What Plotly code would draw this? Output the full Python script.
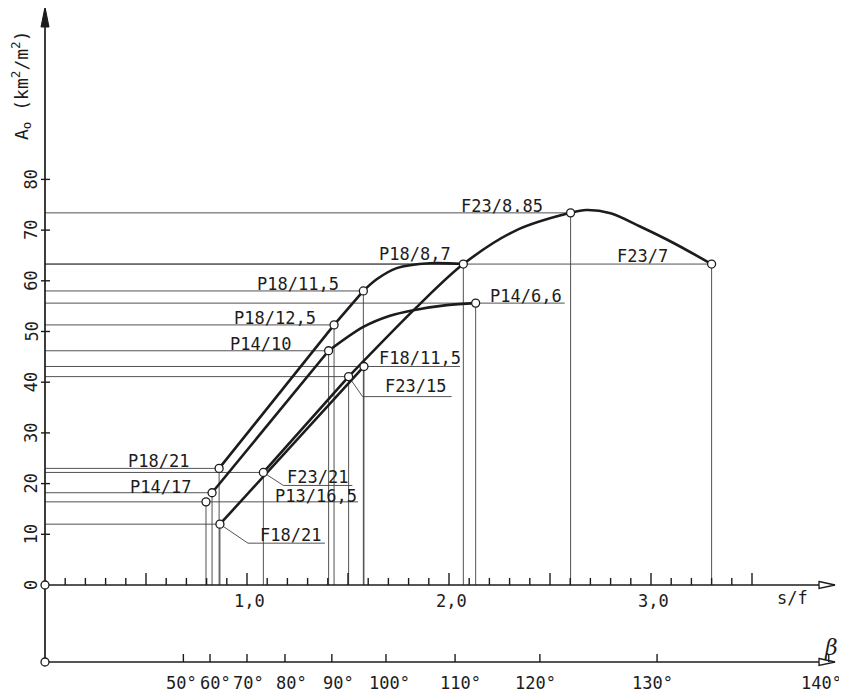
import plotly.graph_objects as go

# page body has an 8px margin: the figure is drawn 8px in from the window corner
PAGE_OFF = 8
WIN_W, WIN_H = 847, 693
W, H = WIN_W - PAGE_OFF, WIN_H - PAGE_OFF

# ---------------- data ----------------
point_labels = ["P18/21", "P14/17", "P13/16,5", "F18/21", "F23/21", "P18/12,5", "P14/10",
                "F23/15", "F18/11,5", "P18/11,5", "P18/8,7", "P14/6,6", "F23/8.85", "F23/7"]
point_sf = [0.862, 0.827, 0.797, 0.866, 1.081, 1.431, 1.404,
            1.503, 1.579, 1.576, 2.071, 2.132, 2.602, 3.300]
point_A = [23.0, 18.2, 16.4, 12.0, 22.2, 51.3, 46.2,
           41.1, 43.1, 58.0, 63.3, 55.6, 73.4, 63.3]

p18_straight_sf = [0.862, 1.431, 1.576]
p18_straight_A = [23.0, 51.3, 58.0]
p18_curve_sf = [1.576, 1.642, 1.741, 1.906, 2.071]
p18_curve_A = [58.0, 60.3, 62.5, 63.45, 63.3]

p14_straight_sf = [0.827, 1.404]
p14_straight_A = [18.2, 46.2]
p14_curve_sf = [1.404, 1.576, 1.708, 1.823, 1.989, 2.132]
p14_curve_A = [46.2, 50.9, 53.1, 54.2, 55.2, 55.6]

f18_sf = [0.866, 1.579]
f18_A = [12.0, 43.1]

f23_straight_sf = [1.081, 1.503]
f23_straight_A = [22.2, 41.1]
f23_curve_sf = [1.503, 1.840, 2.071, 2.330, 2.602, 2.680, 2.800, 2.946, 3.109, 3.300]
f23_curve_A = [41.1, 54.8, 63.3, 69.9, 73.4, 73.95, 73.3, 70.7, 67.5, 63.3]

y_tick_vals = [0, 10, 20, 30, 40, 50, 60, 70, 80]
sf_minor_ticks = [round(0.1 * i, 1) for i in range(1, 36)]
sf_major_ticks = [0.5, 1.0, 1.5, 2.0, 2.5, 3.0, 3.5]
sf_label_vals = [1.0, 2.0, 3.0]
sf_label_text = ["1,0", "2,0", "3,0"]
beta_deg = [50, 60, 70, 80, 90, 100, 110, 120, 130, 140]
beta_sf = [0.685, 0.817, 1.000, 1.188, 1.420, 1.688, 2.030, 2.450, 3.030, 3.880]

# ---------------- layout helpers ----------------
X0, X1 = (PAGE_OFF - 45) / 202, (WIN_W - 45) / 202
Y0, Y1 = (585 - WIN_H) / 5.07, (585 - PAGE_OFF) / 5.07
PXX = (X1 - X0) / W
PXY = (Y1 - Y0) / H


def ox(p):
    return p * PXX


def oy(p):  # positive = downward in pixels
    return -p * PXY


FONT = "DejaVu Sans Mono"
INK = "#1c1c1c"
THIN = "#404040"
BETA_Y = oy(77)
X_END = ox(790)

# pixel shifts of the degree labels relative to their ticks
beta_label_shift = [-2, 5, 1, 7, 7, 4, 5, -4, -5, -7]

label_layout = {
    "P18/21": dict(side="left", gap=28, dy=-7),
    "P14/17": dict(side="left", gap=19, dy=-6),
    "P13/16,5": dict(side="right", gap=67, dy=-6, ext=152),
    "F18/21": dict(side="right", gap=38, dy=11, leader=(28, 19), uend=105),
    "F23/21": dict(side="right", gap=22, dy=5, leader=(20, 13), uend=89),
    "P18/12,5": dict(side="left", gap=16, dy=-7),
    "P14/10": dict(side="left", gap=36, dy=-7),
    "F23/15": dict(side="right", gap=34, dy=9, leader=(14, 20), uend=103),
    "F18/11,5": dict(side="right", gap=13, dy=-8, ext=96),
    "P18/11,5": dict(side="left", gap=22, dy=-7),
    "P18/8,7": dict(side="left", gap=10, dy=-10),
    "P14/6,6": dict(side="right", gap=12, dy=-7, ext=89),
    "F23/8.85": dict(side="left", gap=26, dy=-7),
    "F23/7": dict(side="left", gap=42, dy=-8),
}

fig = go.Figure()
shapes = []
annotations = []

# thin reference lines and point labels
for lab, x, y in zip(point_labels, point_sf, point_A):
    spec = label_layout[lab]
    xe = x + ox(spec.get("ext", 0))
    shapes.append(dict(type="line", x0=0, x1=xe, y0=y, y1=y,
                       line=dict(color=THIN, width=0.9), layer="below"))
    shapes.append(dict(type="line", x0=x, x1=x, y0=0, y1=y,
                       line=dict(color=THIN, width=0.9), layer="below"))
    if "leader" in spec:
        lx, ly = spec["leader"]
        shapes.append(dict(type="line", x0=x, y0=y, x1=x + ox(lx), y1=y + oy(ly),
                           line=dict(color=THIN, width=0.9), layer="below"))
        shapes.append(dict(type="line", x0=x + ox(lx), y0=y + oy(ly),
                           x1=x + ox(spec["uend"]), y1=y + oy(ly),
                           line=dict(color=THIN, width=0.9), layer="below"))
    if spec["side"] == "left":
        ax, xa = x - ox(spec["gap"]), "right"
    else:
        ax, xa = x + ox(spec["gap"]), "left"
    annotations.append(dict(x=ax, y=y + oy(spec["dy"]), text=lab, showarrow=False,
                            xanchor=xa, yanchor="middle",
                            font=dict(family=FONT, size=17, color=INK)))

# axes
AXL = dict(color=INK, width=1.7)
shapes.append(dict(type="line", x0=0, x1=0, y0=BETA_Y, y1=oy(-575), line=AXL, layer="below"))
shapes.append(dict(type="line", x0=0, x1=X_END, y0=0, y1=0, line=AXL, layer="below"))
shapes.append(dict(type="line", x0=0, x1=X_END, y0=BETA_Y, y1=BETA_Y, line=AXL, layer="below"))
ytip = oy(-578)
shapes.append(dict(type="path",
                   path=f"M 0 {ytip} L {ox(-4)} {ytip + oy(20)} L {ox(4)} {ytip + oy(20)} Z",
                   fillcolor=INK, line=dict(color=INK, width=1)))
for yb in (0, BETA_Y):
    shapes.append(dict(type="path",
                       path=f"M {X_END - ox(16)} {yb + oy(-3.5)} L {X_END} {yb} "
                            f"L {X_END - ox(16)} {yb + oy(3.5)} Z",
                       fillcolor="white", line=dict(color=INK, width=1.3)))

for t in sf_minor_ticks:
    h = 12 if t in sf_major_ticks else 7
    shapes.append(dict(type="line", x0=t, x1=t, y0=0, y1=oy(-h), line=dict(color=INK, width=1.4)))
for t in beta_sf:
    shapes.append(dict(type="line", x0=t, x1=t, y0=BETA_Y, y1=BETA_Y + oy(-8),
                       line=dict(color=INK, width=1.4)))
for v in y_tick_vals[1:]:
    shapes.append(dict(type="line", x0=ox(-4), x1=ox(5), y0=v, y1=v, line=dict(color=INK, width=1.4)))

for v in y_tick_vals:
    annotations.append(dict(x=ox(-14), y=v, text=str(v), showarrow=False, textangle=-90,
                            xanchor="center", yanchor="middle",
                            font=dict(family=FONT, size=17, color=INK)))
for v, t in zip(sf_label_vals, sf_label_text):
    annotations.append(dict(x=v + ox(2), y=oy(16), text=t, showarrow=False,
                            xanchor="center", yanchor="middle",
                            font=dict(family=FONT, size=17, color=INK)))
annotations.append(dict(x=ox(747), y=oy(13), text="s/f", showarrow=False,
                        xanchor="center", yanchor="middle",
                        font=dict(family=FONT, size=17, color=INK)))
for v, d, s in zip(beta_sf, beta_deg, beta_label_shift):
    annotations.append(dict(x=v + ox(s), y=BETA_Y + oy(21), text=f"{d}°", showarrow=False,
                            xanchor="center", yanchor="middle",
                            font=dict(family=FONT, size=17, color=INK)))
annotations.append(dict(x=ox(786), y=BETA_Y + oy(-15), text="<i>β</i>", showarrow=False,
                        xanchor="center", yanchor="middle",
                        font=dict(family="DejaVu Serif", size=22, color=INK)))
annotations.append(dict(x=ox(-24), y=oy(-500), text="A<sub>o</sub> (km<sup>2</sup>/m<sup>2</sup>)",
                        showarrow=False, textangle=-90, xanchor="center", yanchor="middle",
                        font=dict(family=FONT, size=18, color=INK)))

# thick curves
for xs, ys, shp in [(p18_straight_sf, p18_straight_A, "linear"),
                    (p18_curve_sf, p18_curve_A, "spline"),
                    (p14_straight_sf, p14_straight_A, "linear"),
                    (p14_curve_sf, p14_curve_A, "spline"),
                    (f18_sf, f18_A, "linear"),
                    (f23_straight_sf, f23_straight_A, "linear"),
                    (f23_curve_sf, f23_curve_A, "spline")]:
    fig.add_trace(go.Scatter(x=xs, y=ys, mode="lines",
                             line=dict(color=INK, width=2.6, shape=shp, smoothing=0.9),
                             hoverinfo="skip", showlegend=False))

fig.add_trace(go.Scatter(x=point_sf, y=point_A, mode="markers", text=point_labels,
                         marker=dict(symbol="circle", size=8, color="white",
                                     line=dict(color=INK, width=1.3)),
                         showlegend=False))
fig.add_trace(go.Scatter(x=[0, 0], y=[0, BETA_Y], mode="markers",
                         marker=dict(symbol="circle", size=8, color="white",
                                     line=dict(color=INK, width=1.3)),
                         hoverinfo="skip", showlegend=False))

fig.update_layout(
    width=W, height=H, autosize=False,
    margin=dict(l=0, r=0, t=0, b=0),
    paper_bgcolor="white", plot_bgcolor="white",
    xaxis=dict(range=[X0, X1], visible=False, fixedrange=True),
    yaxis=dict(range=[Y0, Y1], visible=False, fixedrange=True),
    shapes=shapes, annotations=annotations, showlegend=False,
)
fig.write_html("out.html")
